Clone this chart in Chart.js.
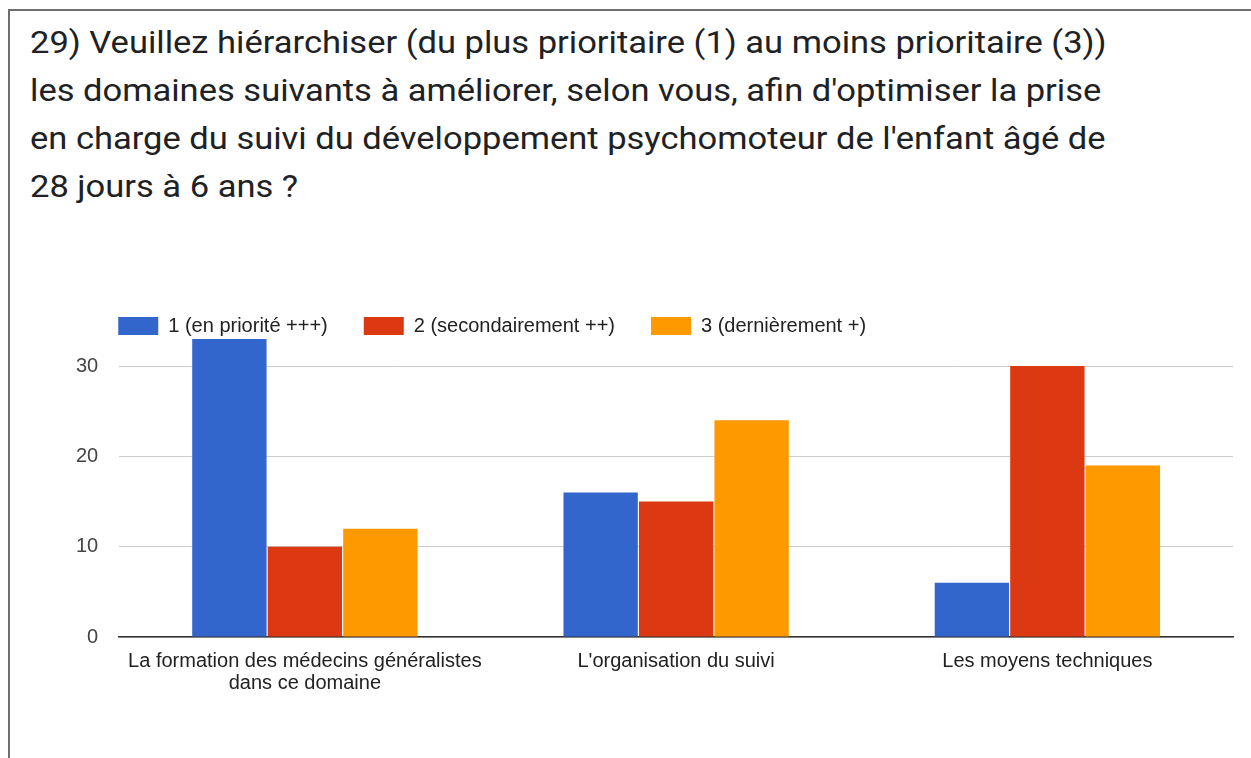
<!DOCTYPE html>
<html>
  <head>
    <meta charset="utf-8">
    <title>Domaines à améliorer</title>
    <script src="https://cdn.jsdelivr.net/npm/chart.js"></script>
    <style>
      body {
        margin: 0;
        background: #fff;
        width: 1251px;
        height: 758px;
        overflow: hidden;
        position: relative;
      }
      .frame {
        position: absolute;
        left: 8px;
        top: 9px;
        width: 1260px;
        height: 800px;
        border-left: 2px solid #6f6f6f;
        border-top: 2px solid #6f6f6f;
      }
      .question {
        position: absolute;
        left: 30px;
        top: 19px;
        font-family: Roboto, sans-serif;
        font-size: 31px;
        line-height: 48px;
        color: #202124;
        white-space: nowrap;
        transform: scaleX(1.113);
        transform-origin: 0 0;
      }
      .chart-box {
        position: absolute;
        left: 40px;
        top: 273px;
        width: 1201px;
        height: 434px;
      }
    </style>
  </head>
  <body>
    <div class="frame"></div>
    <div class="question">
      29) Veuillez hiérarchiser (du plus prioritaire (1) au moins prioritaire (3))<br>
      les domaines suivants à améliorer, selon vous, afin d'optimiser la prise<br>
      en charge du suivi du développement psychomoteur de l'enfant âgé de<br>
      28 jours à 6 ans ?
    </div>
    <div class="chart-box">
      <canvas id="rankChart"></canvas>
    </div>
    <script>
      // catégories (libellés sur deux lignes si besoin)
      var domaines = [
        ['La formation des médecins généralistes', 'dans ce domaine'],
        "L'organisation du suivi",
        'Les moyens techniques'
      ];
      var seriesNames = ['1 (en priorité +++)', '2 (secondairement ++)', '3 (dernièrement +)'];
      var priorite1 = [33, 16, 6];
      var priorite2 = [10, 15, 30];
      var priorite3 = [12, 24, 19];
      var yTicks = [0, 10, 20, 30];
      var couleurs = ['#3366cc', '#dc3912', '#ff9900'];

      var font = 'Arial, "Liberation Sans", sans-serif';

      function makeDataset(i, values) {
        return {
          label: seriesNames[i],
          data: values,
          backgroundColor: couleurs[i],
          borderWidth: 0,
          categoryPercentage: 0.61,
          barPercentage: 0.985
        };
      }

      // légende alignée sur le bord gauche du graphique, un peu plus bas
      var legendShift = {
        id: 'legendShift',
        afterLayout: function(chart) {
          var lg = chart.legend;
          var dx = chart.chartArea.left - 37 - lg.left;
          lg.left += dx;
          lg.right += dx;
          lg.top += 7;
          lg.bottom += 7;
        }
      };

      new Chart(document.getElementById('rankChart').getContext('2d'), {
        type: 'bar',
        data: {
          labels: domaines,
          datasets: [
            makeDataset(0, priorite1),
            makeDataset(1, priorite2),
            makeDataset(2, priorite3)
          ]
        },
        plugins: [legendShift],
        options: {
          responsive: true,
          maintainAspectRatio: false,
          animation: false,
          layout: {
            padding: { left: 15, right: 8, top: 0, bottom: 0 }
          },
          plugins: {
            legend: {
              position: 'top',
              align: 'start',
              labels: {
                boxWidth: 40,
                boxHeight: 18,
                padding: 36,
                color: '#222',
                font: { family: font, size: 20 }
              }
            },
            tooltip: { enabled: false }
          },
          scales: {
            x: {
              grid: { display: false, drawTicks: false },
              border: { display: true, color: '#333', width: 1.5 },
              ticks: {
                padding: 13,
                color: '#222',
                font: { family: font, size: 20, lineHeight: 1.1 },
                maxRotation: 0,
                autoSkip: false
              }
            },
            y: {
              min: 0,
              max: 33,
              afterBuildTicks: function(axis) {
                axis.ticks = yTicks.map(v => ({ value: v }));
              },
              grid: { color: '#cccccc', lineWidth: 1, drawTicks: false },
              border: { display: false },
              ticks: {
                padding: 21,
                color: '#444',
                font: { family: font, size: 20 }
              }
            }
          }
        }
      });
    </script>
  </body>
</html>
